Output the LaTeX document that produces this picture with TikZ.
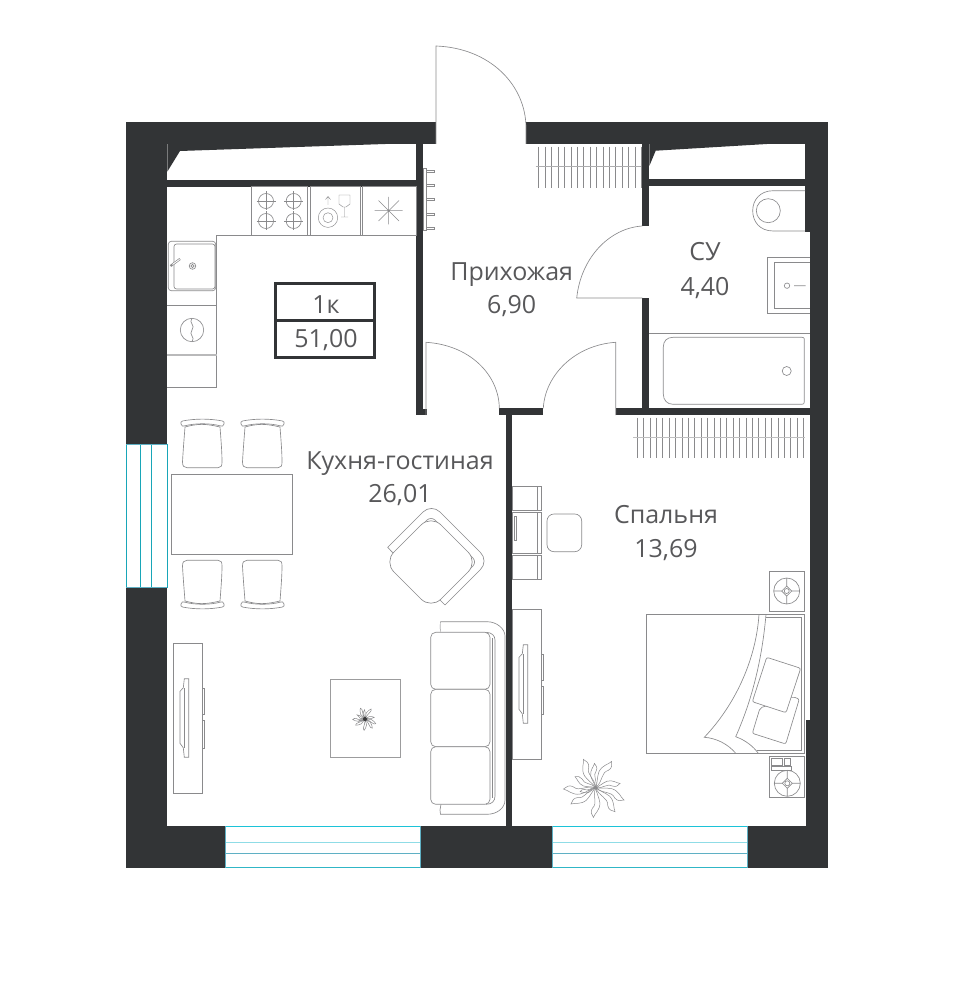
\documentclass[tikz,border=0pt]{standalone}
\usepackage{fontspec}
\setmainfont{Open Sans}
\definecolor{wallc}{HTML}{323436}
\definecolor{linec}{HTML}{8A8A8C}
\definecolor{textc}{HTML}{58585A}
\definecolor{cyan1}{HTML}{1CC3D8}
\definecolor{cyan2}{HTML}{8FDCE6}
\definecolor{cyan3}{HTML}{5FB0C4}
\tikzset{
  wall/.style={fill=wallc,draw=none},
  furn/.style={draw=linec,line width=0.65pt,fill=white},
  thin line/.style={draw=linec,line width=0.65pt},
  hatchline/.style={draw=linec,line width=0.55pt},
  roomlabel/.style={text=textc,font=\fontsize{25}{30}\selectfont,inner sep=0pt,align=center,anchor=base},
  win/.style={fill=white,draw=none},
}
\newcommand{\chairshape}{%
  \draw[furn] (185,427) .. controls (184,440) and (183,452) .. (182.5,462) .. controls (182.5,466) and (184,467.7) .. (187,467.7) -- (218,467.7) .. controls (221,467.7) and (222,466) .. (222,462) .. controls (222,452) and (221,440) .. (220,427) .. controls (205,423.5) and (198,423.5) .. (185,427) -- cycle;
  \draw[furn] (181,424) .. controls (180.5,422.5) and (181,421.5) .. (182.5,421) .. controls (195,418.5) and (210,418.5) .. (222.5,421) .. controls (224,421.5) and (224.5,422.5) .. (224,424) .. controls (223.5,426) and (222,426.5) .. (221,426) .. controls (210,423) and (195,423) .. (184,426) .. controls (183,426.5) and (181.5,426) .. (181,424) -- cycle;
}
\newcommand{\plantshape}[1]{%
  \foreach \a/\L in {113.5/30.9,93/24.3,58.7/30.8,10/24.7,-23.5/30.9,-51.2/30.8,-94.4/29.8,-146.6/29.6,-177.7/32.3,152/23.4,-166/16}{
    \begin{scope}[rotate=\a,scale=#1]
      \draw[draw=linec,line width=0.5pt] (0,0) .. controls ({.3*\L},{.1*\L}) and ({.5*\L},{-.12*\L}) .. ({.7*\L},{.06*\L}) .. controls ({.82*\L},{.13*\L}) and ({.92*\L},{.06*\L}) .. (\L,0) .. controls ({.85*\L},{-.04*\L}) and ({.75*\L},{-.2*\L}) .. ({.5*\L},{-.18*\L}) .. controls ({.3*\L},{-.14*\L}) and ({.15*\L},{-.02*\L}) .. (0,0);
    \end{scope}
  }
}
\begin{document}
\begin{tikzpicture}[x=1pt,y=-1pt]
\useasboundingbox (0,0) rectangle (953,1000);
% ---- outer walls
\fill[wall] (126,122) rectangle (167.3,868);
\fill[wall] (126,122) rectangle (436,144);
\fill[wall] (526,122) rectangle (828,144);
\fill[wall] (126,825.7) rectangle (828,868);
\fill[wall] (805,122) rectangle (828,232);
\fill[wall] (809.5,232) rectangle (828,720);
\fill[wall] (806,720) rectangle (828,868);
% ---- wedges under the top wall
\fill[wall] (167.3,171.7) -- (180,151) -- (400,143.5) -- (416,143.5) -- (416,143) -- (167.3,143) -- cycle;
\fill[wall] (649.3,166) -- (655.7,150.7) -- (767,144) -- (767,143) -- (649.3,143) -- cycle;
% ---- inner walls
\fill[wall] (167.3,180) rectangle (416,186.7);
\fill[wall] (416,143) rectangle (422.7,415);
\fill[wall] (416,408.5) rectangle (426.7,415);
\fill[wall] (642.3,143) rectangle (649.3,226);
\fill[wall] (642.3,298) rectangle (649.3,410);
\fill[wall] (649.3,179.3) rectangle (805,186);
\fill[wall] (615.7,408.3) rectangle (810,415);
\fill[wall] (499.3,408.3) rectangle (543.3,415);
\fill[wall] (505.7,408.3) rectangle (512.3,826);
% ---- windows
\fill[win] (126,444.3) rectangle (167.3,587.7);
\foreach \x in {126.5,140.7,151.7,167}{\draw[cyan1!85!black,line width=0.8pt] (\x,444.3) -- (\x,587.7);}
\draw[cyan3,line width=0.5pt] (126,444.3) -- (167.3,444.3) (126,587.7) -- (167.3,587.7);
\foreach \xa/\xb in {225.3/420,552.7/747.7}{
  \fill[win] (\xa,826) rectangle (\xb,868);
  \draw[cyan1,line width=0.8pt] (\xa,826.7) -- (\xb,826.7);
  \draw[cyan2,line width=0.8pt] (\xa,842) -- (\xb,842);
  \draw[cyan3,line width=0.7pt] (\xa,853.3) -- (\xb,853.3);
  \draw[cyan1!80!gray,line width=0.8pt] (\xa,867.3) -- (\xb,867.3);
  \draw[cyan3,line width=0.6pt] (\xa,826) -- (\xa,868) (\xb,826) -- (\xb,868);
}
% ---- doors
\draw[thin line] (436,144) -- (436,46) .. controls (490,48) and (526,85) .. (526,128) -- (526,144);
\draw[thin line] (642.3,298) -- (576.7,298) .. controls (581,257) and (610,228) .. (642.3,226);
\draw[thin line] (426,415) -- (426,342.3) .. controls (470,345) and (499,375) .. (499.3,408.3);
\draw[thin line] (615.7,415) -- (615.7,342.3) .. controls (575,345) and (545,375) .. (543.3,408.3);
% ---- radiators
\foreach \x in {0,...,16}{\draw[hatchline] ({538.7+\x*6.42},146.7) -- ({538.7+\x*6.42},187.7);}
\draw[hatchline,draw=linec!70] (535.7,166.7) -- (641.3,166.7);
\foreach \x in {0,...,26}{\draw[hatchline] ({637+\x*6.4},417.7) -- ({637+\x*6.4},458);}
\draw[hatchline,draw=linec!55,line width=1pt] (633,437.7) -- (805,437.7);
% ---- towel rail
\draw[thin line] (423.3,168) rectangle (426,230.7);
\foreach \y in {171.5,185.7,199.8,214,228}{\draw[furn] (426,{\y-1}) rectangle (434,{\y+1});}
% ---- kitchen
\draw[thin line] (416,235.3) -- (216.7,235.3) -- (216.7,387.3) -- (167.3,387.3);
\draw[furn] (251.7,186.7) rectangle (307.7,235.3);
\draw[furn] (310.3,186.7) rectangle (360,235.3);
\draw[furn] (362.3,186.7) rectangle (416,235.3);
\foreach \cx/\cy in {266/201,293.7/201,266/221,293.7/221}{
  \draw[thin line] (\cx,\cy) circle (7.5);
  \draw[thin line] ({\cx-9.5},\cy) -- ({\cx+9.5},\cy) (\cx,{\cy-9.5}) -- (\cx,{\cy+9.5});
}
\draw[thin line,line width=.45pt] (328,217.7) circle (9.7) (328,217.7) circle (5);
\draw[thin line,line width=.45pt] (328,205) -- (328,196.5) (325.5,199.5) -- (328,196.5) -- (330.5,199.5);
\draw[thin line,line width=.45pt] (339,195) -- (350,195) -- (350,204) -- (346,207) -- (343,207) -- (339,204) -- cycle (344.5,207) -- (344.5,217) (341,217) -- (348,217);
\draw[thin line,line width=.45pt] (374.7,210.7) -- (402.7,210.7) (388.7,197) -- (388.7,224.5) (378.5,200.5) -- (399,221) (378.5,221) -- (399,200.5);
\fill[linec] (388.7,210.7) circle (0.9);
% sink
\draw[furn,rounded corners=3pt] (168.3,241.3) rectangle (215.7,290.7);
\draw[furn,rounded corners=2.5pt] (174,244) rectangle (215,289);
\draw[draw=linec,line width=2.2pt] (170.5,266) -- (180,259);
\draw[draw=white,line width=0.9pt] (172.5,264.5) -- (179.5,259.4);
\draw[thin line] (192.5,266) circle (3.3) (192.5,266) circle (1.7);
\draw[thin line] (167.3,305.7) -- (216.7,305.7);
\draw[draw=linec!60,line width=1.2pt] (167.3,355) -- (216.7,355);
\draw[thin line] (192,330) circle (11.7);
\draw[thin line] (192,318.3) .. controls (188,323) and (196,325) .. (192,330) .. controls (188,335) and (196,337) .. (192,341.7);
% ---- apartment label
\draw[draw=wallc,line width=3pt] (275.5,283) rectangle (374.7,357);
\draw[draw=wallc,line width=3pt] (275.5,320) -- (374.7,320);
\node[roomlabel] (type) at (326,313) {1к};
\node[roomlabel] (area) at (326,347) {51,00};
% ---- room labels
\node[roomlabel] (hall) at (511.7,280) {Прихожая};
\node[roomlabel] (hallv) at (511.7,313.3) {6,90};
\node[roomlabel] (su) at (705,260.7) {СУ};
\node[roomlabel] (suv) at (705,295) {4,40};
\node[roomlabel] (liv) at (400,469.3) {Кухня-гостиная};
\node[roomlabel] (livv) at (400,502.7) {26,01};
\node[roomlabel] (bed) at (666,523.3) {Спальня};
\node[roomlabel] (bedv) at (666,557.3) {13,69};
% ---- dining
\draw[furn] (171.3,474.3) rectangle (292.7,554);
\foreach \dx in {0,60}{
  \begin{scope}[shift={(\dx,0)}]\chairshape\end{scope}
  \begin{scope}[shift={(\dx,1028)},yscale=-1]\chairshape\end{scope}
}
% ---- armchair
\draw[furn,rounded corners=12pt] (387.7,547.3) -- (431.5,503.5) -- (489,561) -- (445,605);
\draw[furn] (387.7,547.3) -- (393,553) (445,605) -- (439.5,599.5);
\draw[thin line,rounded corners=6pt] (396,551) -- (431,516) -- (477,562) -- (441,598);
\draw[furn,rounded corners=14pt] (384,562) -- (431,515) -- (478,562) -- (431,609) -- cycle;
% ---- sofa
\draw[furn,rounded corners=3pt] (441,632.3) -- (440,629) -- (440.5,621.7);
\draw[furn] (440.5,621.7) -- (487,621.7) .. controls (497,621.7) and (505,629) .. (505,636) -- (505,800) .. controls (505,808) and (497,814.3) .. (487,814.3) -- (440.5,814.3) -- (440,810) -- (441,804.3);
\draw[thin line] (486,632.3) .. controls (492,632.3) and (495,636) .. (495,640) -- (495,796) .. controls (495,801) and (492,804.3) .. (486,804.3);
\draw[thin line] (492.7,638) -- (492.7,798);
\foreach \ya/\yb in {632.3/689.3,689.3/746.7,746.7/804.3}{\draw[furn,rounded corners=5pt] (430.7,\ya) rectangle (490,\yb);}
% ---- coffee table + plant
\draw[furn,draw=linec!85] (330.7,679.3) rectangle (400,757);
\begin{scope}[shift={(365,719)}]\plantshape{0.38}\fill[linec!40!black] (0,0) circle (2);\end{scope}
% ---- TV units
\foreach \ox/\oy/\h in {173.3/643.3/150, 512.3/609.3/149.7}{
  \begin{scope}[shift={(\ox,\oy)}]
    \draw[furn,line width=1pt] (0,0) rectangle (29,\h);
    \draw[thin line] (29,45.5) rectangle (31.2,71) (29,77) rectangle (31.2,105.5);
    \draw[furn] (11,35.5) -- (15.4,35.5) -- (15.4,114) -- (11,114) -- (10,104.5) -- (6.7,100) -- (6.7,48) -- (10,44.5) -- cycle;
    \draw[thin line] (11,44.5) -- (11,104.5);
  \end{scope}
}
% ---- desk in bedroom
\draw[furn] (512.3,486) rectangle (541.7,510.7);
\draw[furn] (512.3,512.3) rectangle (541.7,553.3);
\draw[furn] (512.3,555) rectangle (541.7,579.3);
\draw[thin line] (537.3,486) -- (537.3,510.7) (537.3,512.3) -- (537.3,553.3) (537.3,555) -- (537.3,579.3);
\draw[thin line] (514.8,516) rectangle (516,540);
\draw[furn,rounded corners=7pt] (547,514) rectangle (581.7,551.7);
% ---- bed
\draw[furn] (646.3,614.3) rectangle (804.7,753.3);
\draw[thin line] (766,617.7) -- (801.7,617.7) -- (801.7,750.7) -- (757,750.7);
\draw[thin line] (759,614.3) .. controls (756,660) and (735,705) .. (704.3,737.3) .. controls (716,738) and (728,744) .. (735.7,753.3);
\draw[thin line] (766,614.3) .. controls (762,660) and (752,700) .. (735.7,736.7) .. controls (745,740) and (753,746) .. (758.3,753.3);
\draw[furn,rounded corners=2pt] (760,708) -- (792.7,696.7) -- (799.3,699) -- (785.7,744) -- (752.3,733.3) -- cycle;
\draw[furn,rounded corners=2pt] (766.7,657.3) -- (800.7,668.3) -- (786,712.7) -- (752.3,701.7) -- cycle;
% ---- nightstands
\draw[furn] (769.3,571) rectangle (804.7,611.7);
\draw[thin line] (786.7,591) circle (13) (773.7,591) -- (799.7,591) (786.7,578) -- (786.7,604);
\draw[furn] (786.7,586) -- (791.7,591) -- (786.7,596) -- (781.7,591) -- cycle;
\draw[thin line] (786.7,591) circle (2.5);
\draw[furn] (769.3,756.7) rectangle (804.7,797.7);
\draw[thin line] (771.7,758.3) rectangle (782.3,765) (784.3,758.3) rectangle (790.7,765) (771.7,766.7) rectangle (791.7,770.7);
\draw[thin line] (787.3,783.3) circle (13) (774.3,783.3) -- (800.3,783.3) (787.3,770.3) -- (787.3,796.3);
\draw[furn] (787.3,778.3) -- (792.3,783.3) -- (787.3,788.3) -- (782.3,783.3) -- cycle;
\draw[thin line] (787.3,783.3) circle (2.5);
% ---- plant
\begin{scope}[shift={(595.7,787.7)}]\plantshape{1}\end{scope}
% ---- bathroom
\draw[thin line] (805,190.7) -- (773.3,190.7) .. controls (760,190.7) and (752.7,200) .. (752.7,210.7) .. controls (752.7,222) and (760,231) .. (773.3,231) -- (805,231);
\draw[thin line] (768.3,210.7) circle (12);
\draw[thin line] (809.5,257.3) -- (767.7,257.3) -- (767.7,313.3) -- (809.5,313.3);
\draw[thin line] (809.5,262.3) -- (774.3,262.3) -- (774.3,308.3) -- (809.5,308.3);
\draw[thin line] (787,285.7) circle (2.7) (794,285.7) -- (805.7,285.7);
\draw[thin line] (649.3,333.3) -- (809.5,333.3);
\draw[thin line] (804.3,339) .. controls (804.3,338) and (803.5,337.3) .. (802,337.3) -- (673,337.3) .. controls (667,337.3) and (663.3,341) .. (663.3,347) -- (663.3,394) .. controls (663.3,400) and (667,404.3) .. (673,404.3) -- (802,404.3) .. controls (803.5,404.3) and (804.3,403.5) .. (804.3,402) -- cycle;
\draw[thin line] (786.7,371) circle (4.5);
\end{tikzpicture}
\end{document}
